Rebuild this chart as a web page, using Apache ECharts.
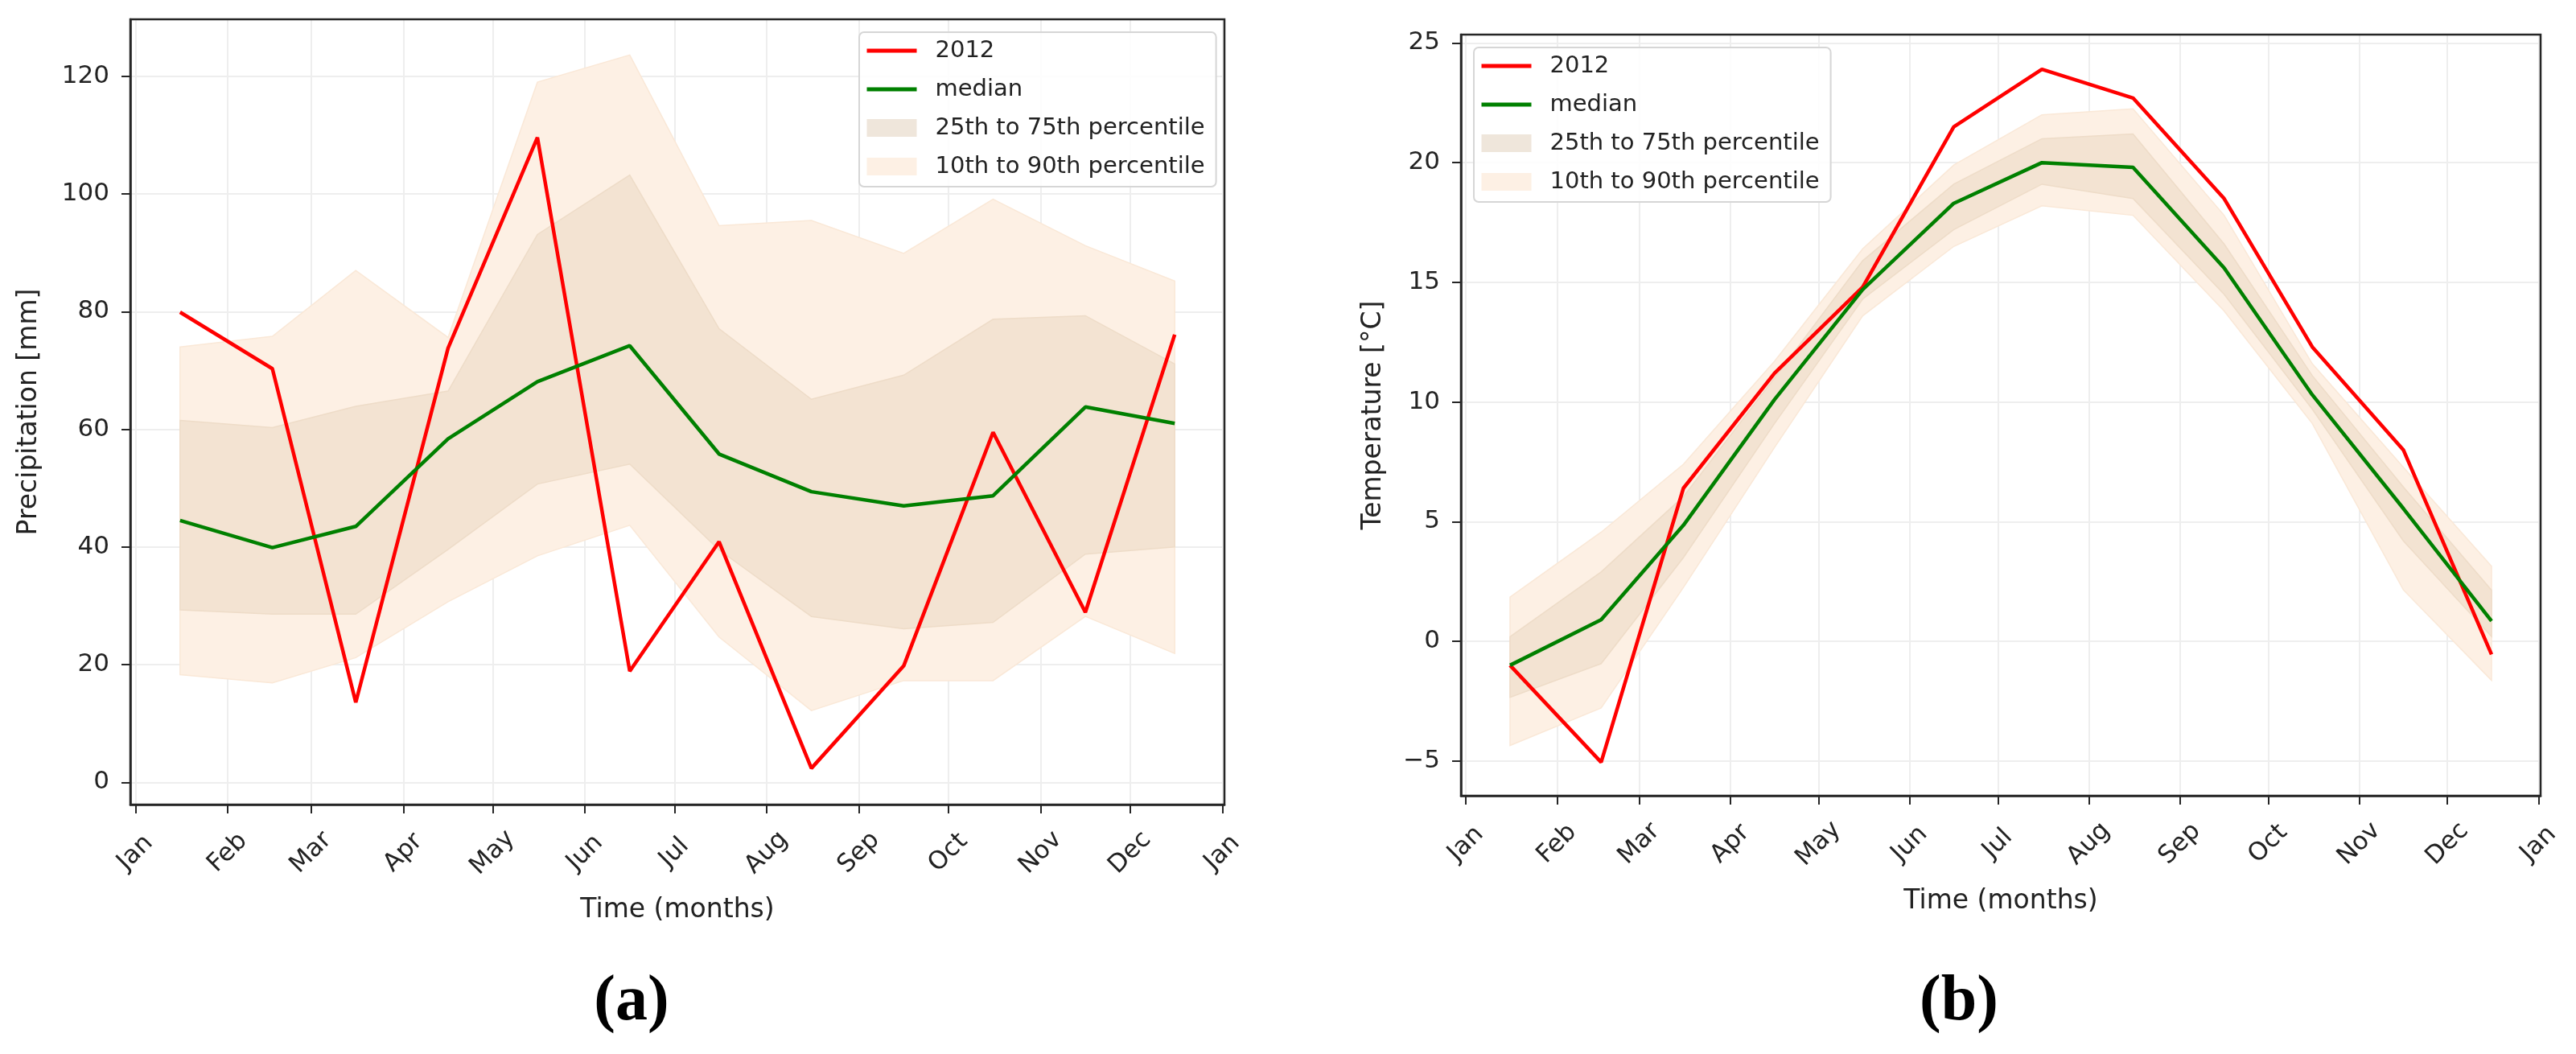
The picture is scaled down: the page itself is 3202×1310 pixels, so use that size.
<!DOCTYPE html>
<html><head><meta charset="utf-8">
<script src="https://cdn.jsdelivr.net/npm/echarts@6/dist/echarts.min.js"></script>
<style>html,body{margin:0;padding:0;background:#fff}#c{width:3202px;height:1310px}</style>
</head><body><div id="c"></div>
<script>
// ---- x positions (day of year) ----
const monthTickDays = [0, 31, 59, 90, 120, 151, 181, 212, 243, 273, 304, 334, 365];
const monthTickLabels = ['Jan','Feb','Mar','Apr','May','Jun','Jul','Aug','Sep','Oct','Nov','Dec','Jan'];
const sampleDays = [15, 46, 74, 105, 135, 166, 196, 227, 258, 288, 319, 349];

// ---- (a) precipitation [mm] ----
const precipTicks = [0, 20, 40, 60, 80, 100, 120];
const precip2012   = [79.9, 70.3, 13.6, 73.8, 109.6, 18.9, 40.9, 2.4, 19.8, 59.5, 28.9, 76.1];
const precipMedian = [44.5, 39.9, 43.5, 58.4, 68.1, 74.2, 55.8, 49.4, 47.0, 48.7, 63.8, 61.0];
const precipP10    = [18.3, 16.9, 21.2, 30.7, 38.5, 43.7, 24.7, 12.2, 17.3, 17.3, 28.2, 21.9];
const precipP25    = [29.3, 28.6, 28.6, 39.6, 50.7, 54.1, 39.5, 28.2, 26.1, 27.2, 38.8, 40.0];
const precipP75    = [61.5, 60.3, 63.9, 66.5, 93.1, 103.2, 77.1, 65.1, 69.2, 78.7, 79.3, 71.1];
const precipP90    = [74.0, 75.8, 87.0, 75.6, 119.0, 123.6, 94.6, 95.5, 89.9, 99.1, 91.2, 85.2];

// ---- (b) temperature [°C] ----
const tempTicks = [-5, 0, 5, 10, 15, 20, 25];
const temp2012   = [-1.0, -5.05, 6.4, 11.2, 14.8, 21.5, 23.9, 22.7, 18.5, 12.3, 8.0, -0.55];
const tempMedian = [-1.0, 0.9, 4.85, 10.1, 14.7, 18.3, 20.0, 19.8, 15.6, 10.3, 5.55, 0.85];
const tempP10    = [-4.35, -2.78, 2.25, 8.1, 13.6, 16.5, 18.2, 17.8, 13.8, 9.1, 2.15, -1.63];
const tempP25    = [-2.34, -0.93, 3.5, 9.1, 14.3, 17.2, 19.1, 18.5, 14.5, 9.7, 4.2, 0.2];
const tempP75    = [0.19, 2.9, 6.05, 11.0, 15.9, 19.1, 21.0, 21.2, 16.6, 11.1, 6.45, 2.14];
const tempP90    = [1.85, 4.56, 7.4, 11.7, 16.4, 19.9, 22.0, 22.25, 17.8, 11.6, 7.27, 3.14];

const seriesNames = ['2012', 'median', '25th to 75th percentile', '10th to 90th percentile'];

// ---- styles ----
const FONT = 'DejaVu Sans';
const TXT = '#222222';
const AXIS = '#262626';
const LIGHT = '#FDF0E4', LIGHT_EDGE = '#FAE8D7';
const DARK = '#F3E3D2', DARK_EDGE = '#EEDCC8';
const DARK_LEGEND = '#EFE6DB';
const LINE_W = 4.5;

function pairs(vals) { return sampleDays.map((d, i) => [d, vals[i]]); }
function bandData(lo, hi) { return sampleDays.map((d, i) => [d, lo[i], hi[i]]); }
const minus = v => String(v).replace('-', '\u2212');

function bandSeries(k, name, lo, hi, fill, edge) {
  return {
    type: 'custom', name: name, xAxisIndex: k, yAxisIndex: k, silent: true, animation: false,
    clip: true, itemStyle: { color: fill },
    encode: { x: 0, y: [1, 2] },
    data: bandData(lo, hi),
    renderItem: function (params, api) {
      if (params.dataIndex !== 0) return null;
      const upper = sampleDays.map((d, i) => api.coord([d, hi[i]]));
      const lower = sampleDays.map((d, i) => api.coord([d, lo[i]])).reverse();
      return {
        type: 'polygon',
        shape: { points: upper.concat(lower) },
        style: { fill: fill, stroke: edge, lineWidth: 1.5 }
      };
    }
  };
}

function panelSeries(k, red, med, p10, p25, p75, p90) {
  const common = { type: 'line', xAxisIndex: k, yAxisIndex: k, symbol: 'none', silent: true, animation: false };
  return [
    bandSeries(k, seriesNames[3], p10, p90, LIGHT, LIGHT_EDGE),
    bandSeries(k, seriesNames[2], p25, p75, DARK, DARK_EDGE),
    Object.assign({}, common, { name: seriesNames[0], data: pairs(red),
      lineStyle: { color: '#ff0000', width: LINE_W }, itemStyle: { color: '#ff0000' } }),
    Object.assign({}, common, { name: seriesNames[1], data: pairs(med),
      lineStyle: { color: '#008000', width: LINE_W }, itemStyle: { color: '#008000' } })
  ];
}

function xAxisCfg(k) {
  return {
    type: 'value', gridIndex: k, min: -1.7, max: 365.7,
    axisLine: { show: true, onZero: false, lineStyle: { color: AXIS, width: 2.5 } },
    axisTick: { show: true, length: 11, customValues: monthTickDays, lineStyle: { color: AXIS, width: 2 } },
    axisLabel: {
      customValues: monthTickDays, rotate: 45, align: 'center', verticalAlign: 'middle', margin: 60,
      formatter: v => monthTickLabels[monthTickDays.indexOf(v)],
      fontSize: 31, fontFamily: FONT, color: TXT
    },
    splitLine: { show: true, lineStyle: { color: '#eeeeee', width: 2 } },
    name: 'Time (months)', nameLocation: 'middle', nameGap: 131,
    nameTextStyle: { fontSize: 33, fontFamily: FONT, color: TXT, verticalAlign: 'middle' }
  };
}

function yAxisCfg(k, ticks, min, max, name, gap) {
  return {
    type: 'value', gridIndex: k, min: min, max: max,
    axisLine: { show: true, onZero: false, lineStyle: { color: AXIS, width: 2.5 } },
    axisTick: { show: true, length: 11, customValues: ticks, lineStyle: { color: AXIS, width: 2 } },
    axisLabel: { customValues: ticks, margin: 26, formatter: minus, fontSize: 31, fontFamily: FONT, color: TXT },
    splitLine: { show: true, lineStyle: { color: '#eeeeee', width: 2 } },
    name: name, nameLocation: 'middle', nameGap: gap,
    nameTextStyle: { fontSize: 33, fontFamily: FONT, color: TXT, verticalAlign: 'middle' }
  };
}

function legendCfg(left, top) {
  return {
    orient: 'vertical', left: left, top: top,
    padding: [8, 14, 10, 7], itemWidth: 62, itemHeight: 22, itemGap: 18,
    backgroundColor: 'rgba(255,255,255,0.85)', borderColor: '#d6d6d6', borderWidth: 2, borderRadius: 6,
    textStyle: { fontSize: 29, fontFamily: FONT, color: TXT, lineHeight: 30, padding: [0, 0, 0, 18] },
    lineStyle: { width: 5 },
    selectedMode: false,
    data: [
      { name: seriesNames[0], itemStyle: { opacity: 0 }, lineStyle: { width: 5 } },
      { name: seriesNames[1], itemStyle: { opacity: 0 }, lineStyle: { width: 5 } },
      { name: seriesNames[2], icon: 'rect', itemStyle: { color: DARK_LEGEND, borderWidth: 0 } },
      { name: seriesNames[3], icon: 'rect', itemStyle: { color: LIGHT, borderWidth: 0 } }
    ]
  };
}

const chart = echarts.init(document.getElementById('c'), null, { renderer: 'canvas' });
chart.setOption({
  animation: false,
  backgroundColor: '#ffffff',
  grid: [
    { left: 162, right: 1680, top: 24, bottom: 310, show: true, borderColor: AXIS, borderWidth: 2.5, backgroundColor: 'transparent', z: 10 },
    { left: 1816, right: 44, top: 43, bottom: 321, show: true, borderColor: AXIS, borderWidth: 2.5, backgroundColor: 'transparent', z: 10 }
  ],
  xAxis: [xAxisCfg(0), xAxisCfg(1)],
  yAxis: [
    yAxisCfg(0, precipTicks, -3.77, 129.67, 'Precipitation [mm]', 126),
    yAxisCfg(1, tempTicks, -6.45, 25.35, 'Temperature [°C]', 109)
  ],
  legend: [legendCfg(1068, 40), legendCfg(1832, 59)],
  series: [].concat(
    panelSeries(0, precip2012, precipMedian, precipP10, precipP25, precipP75, precipP90),
    panelSeries(1, temp2012, tempMedian, tempP10, tempP25, tempP75, tempP90)
  ),
  graphic: [
    { type: 'text', x: 785, y: 1246, style: { text: '(a)', fontSize: 80, fontWeight: 'bold', fontFamily: 'Liberation Serif', fill: '#000', align: 'center', verticalAlign: 'middle' } },
    { type: 'text', x: 2435, y: 1246, style: { text: '(b)', fontSize: 80, fontWeight: 'bold', fontFamily: 'Liberation Serif', fill: '#000', align: 'center', verticalAlign: 'middle' } }
  ]
});
</script>
</body></html>
